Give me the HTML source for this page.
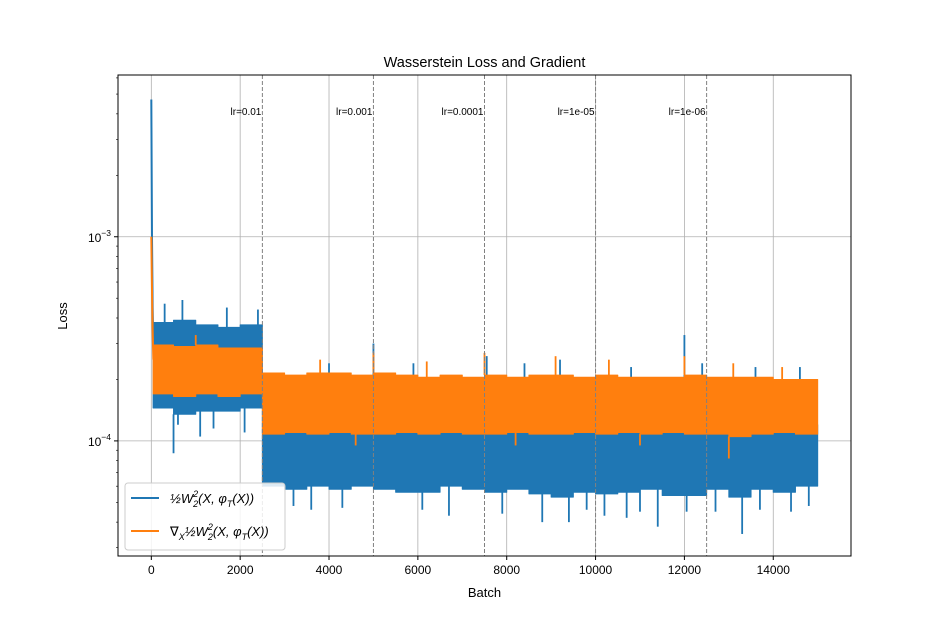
<!DOCTYPE html>
<html><head><meta charset="utf-8"><style>
body{margin:0;background:#fff}
svg{display:block;font-family:"Liberation Sans","DejaVu Sans",sans-serif}
</style></head><body>
<svg id="chart" width="946" height="626" viewBox="0 0 946 626" xmlns="http://www.w3.org/2000/svg">
<rect width="946" height="626" fill="#fff"/>
<text x="484.5" y="67" font-size="14.5" text-anchor="middle">Wasserstein Loss and Gradient</text>
<g id="grid"></g>
<g id="plot"></g>
<g id="axes"></g>
<text x="484.5" y="597" font-size="13" text-anchor="middle">Batch</text>
<text transform="translate(67,316) rotate(-90)" font-size="13" text-anchor="middle">Loss</text>
<g>
<rect x="125" y="483" width="160" height="67" rx="3" fill="#fff" fill-opacity="0.85" stroke="#ccc"/>
<line x1="131" y1="498" x2="159" y2="498" stroke="#1f77b4" stroke-width="2"/>
<text x="170" y="503" font-size="13" font-style="italic">½W<tspan font-size="9" dy="-6">2</tspan><tspan font-size="9" dx="-5" dy="10">2</tspan><tspan dy="-4">(X, φ</tspan><tspan font-size="9" dy="4">T</tspan><tspan dy="-4">(X))</tspan></text>
<line x1="131" y1="531" x2="159" y2="531" stroke="#ff7f0e" stroke-width="2"/>
<text x="170" y="536" font-size="13" font-style="italic">∇<tspan font-size="9" dy="4">X</tspan><tspan dy="-4">½W</tspan><tspan font-size="9" dy="-6">2</tspan><tspan font-size="9" dx="-5" dy="10">2</tspan><tspan dy="-4">(X, φ</tspan><tspan font-size="9" dy="4">T</tspan><tspan dy="-4">(X))</tspan></text>
</g>
</svg>
<script>
const binStart=[0,500,1000,1500,2000,2500,3000,3500,4000,4500,5000,5500,6000,6500,7000,7500,8000,8500,9000,9500,10000,10500,11000,11500,12000,12500,13000,13500,14000,14500];
const blueHigh=[3.8e-4,3.9e-4,3.7e-4,3.6e-4,3.7e-4,1.3e-4,1.25e-4,1.2e-4,1.25e-4,1.2e-4,1.25e-4,1.2e-4,1.2e-4,1.2e-4,1.2e-4,1.2e-4,1.2e-4,1.2e-4,1.2e-4,1.2e-4,1.2e-4,1.2e-4,1.2e-4,1.2e-4,1.2e-4,1.2e-4,1.15e-4,1.2e-4,1.15e-4,1.2e-4];
const blueLow=[1.45e-4,1.35e-4,1.4e-4,1.4e-4,1.45e-4,6.0e-5,5.8e-5,6.0e-5,5.8e-5,6.0e-5,5.8e-5,5.6e-5,5.6e-5,6.0e-5,5.8e-5,5.6e-5,5.8e-5,5.5e-5,5.3e-5,5.6e-5,5.5e-5,5.6e-5,5.8e-5,5.4e-5,5.4e-5,5.8e-5,5.3e-5,5.8e-5,5.6e-5,6.0e-5];
const orangeHigh=[2.95e-4,2.9e-4,2.95e-4,2.85e-4,2.85e-4,2.15e-4,2.1e-4,2.15e-4,2.15e-4,2.1e-4,2.15e-4,2.1e-4,2.05e-4,2.1e-4,2.05e-4,2.1e-4,2.05e-4,2.1e-4,2.1e-4,2.05e-4,2.1e-4,2.05e-4,2.05e-4,2.05e-4,2.1e-4,2.05e-4,2.05e-4,2.05e-4,2.0e-4,2.0e-4];
const orangeLow=[1.7e-4,1.65e-4,1.7e-4,1.65e-4,1.7e-4,1.08e-4,1.1e-4,1.08e-4,1.1e-4,1.08e-4,1.08e-4,1.1e-4,1.08e-4,1.1e-4,1.08e-4,1.08e-4,1.1e-4,1.08e-4,1.08e-4,1.1e-4,1.08e-4,1.1e-4,1.08e-4,1.1e-4,1.08e-4,1.08e-4,1.05e-4,1.08e-4,1.1e-4,1.08e-4];
const blueSpikeX=[300,500,700,1100,1700,2400,5000,5300,7550,8800,9400,12000,12050,13300,11400,3200,6700,10700,14400,2100,2700,600,1400,3600,4300,6100,7900,9800,10200,11000,12700,13700,14800,4000,5900,8400,9200,10800,12400,13600,14600];
const blueSpikeV=[4.7e-4,8.7e-5,4.9e-4,1.05e-4,4.5e-4,4.4e-4,3.0e-4,1.6e-4,2.6e-4,4.0e-5,4.0e-5,3.3e-4,4.5e-5,3.5e-5,3.8e-5,4.8e-5,4.3e-5,4.2e-5,4.5e-5,1.1e-4,1.6e-4,1.2e-4,1.15e-4,4.6e-5,4.7e-5,4.6e-5,4.4e-5,4.6e-5,4.3e-5,4.5e-5,4.5e-5,4.6e-5,4.8e-5,2.4e-4,2.4e-4,2.4e-4,2.5e-4,2.3e-4,2.4e-4,2.3e-4,2.3e-4];
const orangeSpikeX=[5000,7500,9100,12000,3800,6200,10300,13100,14200,1000,4600,8200,11000,13000];
const orangeSpikeV=[2.7e-4,2.7e-4,2.6e-4,2.6e-4,2.5e-4,2.45e-4,2.5e-4,2.4e-4,2.3e-4,3.3e-4,9.5e-5,9.5e-5,9.5e-5,8.2e-5];
const spikeX=[0,15,30,45];
const blueSpike=[4.7e-3,1.0e-3,4.5e-4,3.0e-4];
const orangeSpike=[1.0e-3,5.5e-4,3.5e-4,2.5e-4];
const lrLines=[2500,5000,7500,10000,12500];
const lrLabels=["lr=0.01","lr=0.001","lr=0.0001","lr=1e-05","lr=1e-06"];
const xTicks=[0,2000,4000,6000,8000,10000,12000,14000];
const yTicks=[-4,-3];

const L=118,R=851,T=75,B=556;
const xmin=-750,xmax=15750,ymin=Math.log10(2.73e-5),ymax=Math.log10(6.2e-3);
const X=v=>L+(v-xmin)/(xmax-xmin)*(R-L);
const Y=v=>B-(Math.log10(v)-ymin)/(ymax-ymin)*(B-T);
const NS="http://www.w3.org/2000/svg";
function mk(tag,attrs,parent){const e=document.createElementNS(NS,tag);for(const k in attrs)e.setAttribute(k,attrs[k]);parent.appendChild(e);return e;}
const grid=document.getElementById('grid'),plot=document.getElementById('plot'),axes=document.getElementById('axes');
xTicks.forEach(t=>{const g=mk('line',{x1:X(t),x2:X(t),y1:T,y2:B,stroke:'#b0b0b0','stroke-width':0.8},grid);

});
yTicks.forEach(t=>{const g=mk('line',{x1:L,x2:R,y1:Y(Math.pow(10,t)),y2:Y(Math.pow(10,t)),stroke:'#b0b0b0','stroke-width':0.8},grid);

});
function band(hi,lo,color,name){
  let top=[],bot=[];
  binStart.forEach((b,i)=>{const x0=X(Math.max(b,40)),x1=X(b+500);
    top.push(x0+','+Y(hi[i]),x1+','+Y(hi[i]));bot.push(x0+','+Y(lo[i]),x1+','+Y(lo[i]));});
  const p=mk('polygon',{points:top.concat(bot.reverse()).join(' '),fill:color,stroke:color,'stroke-width':1,'stroke-linejoin':'round'},plot);
  
  
}
function spikes(xs,vs,hi,lo,color,name){
  xs.forEach((x,i)=>{const bi=Math.min(binStart.length-1,Math.floor(x/500));
    const base=vs[i]>hi[bi]?hi[bi]:lo[bi];
    const l=mk('line',{x1:X(x),x2:X(x),y1:Y(base),y2:Y(vs[i]),stroke:color,'stroke-width':1.8},plot);
    
    });
}
function spike(vals,color,name){
  const pts=spikeX.map((x,i)=>X(x)+','+Y(vals[i])).join(' ');
  const p=mk('polyline',{points:pts,fill:'none',stroke:color,'stroke-width':2},plot);
  
  
}
band(blueHigh,blueLow,'#1f77b4','loss-series');
spikes(blueSpikeX,blueSpikeV,blueHigh,blueLow,'#1f77b4','loss-spike');
spike(blueSpike,'#1f77b4','loss-initial-spike');
band(orangeHigh,orangeLow,'#ff7f0e','gradient-series');
spikes(orangeSpikeX,orangeSpikeV,orangeHigh,orangeLow,'#ff7f0e','gradient-spike');
spike(orangeSpike,'#ff7f0e','gradient-initial-spike');
lrLines.forEach((b,i)=>{
  const l=mk('line',{x1:X(b),x2:X(b),y1:T,y2:B,stroke:'#808080','stroke-width':1,'stroke-dasharray':'4,2'},plot);
  
  
  const t=mk('text',{x:X(b)-1,y:115,'font-size':10,'text-anchor':'end'},plot);
  t.textContent=lrLabels[i];
  
  
});
const fr=mk('rect',{x:L,y:T,width:R-L,height:B-T,fill:'none',stroke:'#000','stroke-width':1},axes);


xTicks.forEach(t=>{mk('line',{x1:X(t),x2:X(t),y1:B,y2:B+4,stroke:'#000'},axes);
  const e=mk('text',{x:X(t),y:B+18,'font-size':12,'text-anchor':'middle'},axes);e.textContent=t;
  
  });
yTicks.forEach(t=>{const y=Y(Math.pow(10,t));mk('line',{x1:L-4,x2:L,y1:y,y2:y,stroke:'#000'},axes);
  const e=mk('text',{x:L-7,y:y+5,'font-size':12,'text-anchor':'end'},axes);
  e.innerHTML='10<tspan font-size="8.5" dy="-6">−'+(-t)+'</tspan>';
  
  });
for(let d=-5;d<=-3;d++)for(let m=2;m<=9;m++){const v=m*Math.pow(10,d);const y=Y(v);if(y<T||y>B)continue;
  mk('line',{x1:L-2,x2:L,y1:y,y2:y,stroke:'#000','stroke-width':0.6},axes);}
</script>
</body></html>
